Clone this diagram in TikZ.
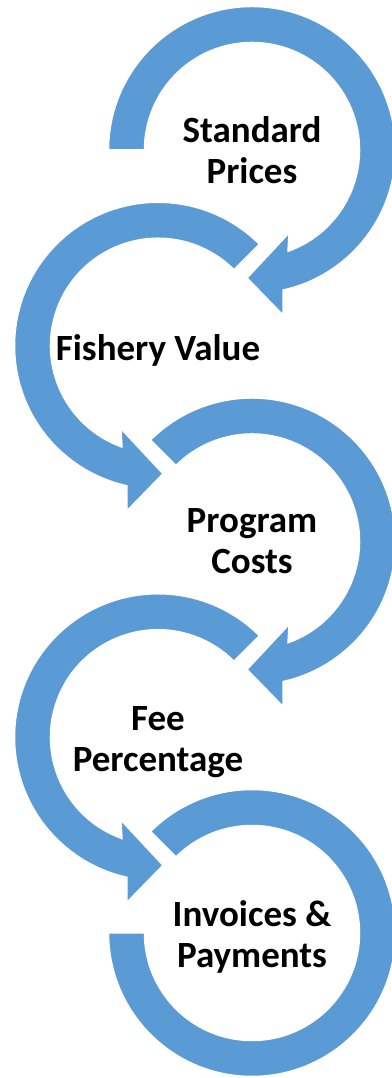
\documentclass[tikz,border=0pt]{standalone}
\usepackage{fontspec}
\setmainfont{Carlito}
\usetikzlibrary{calc}
\definecolor{ringblue}{HTML}{5B9BD5}
\tikzset{
  ring/.style={fill=ringblue, draw=white, line width=1.5pt, line join=miter},
  label/.style={align=center, text=black, font=\fontsize{37}{41}\selectfont\bfseries, inner sep=0pt}
}
% clockwise circular arrow, head at lower right, pointing left
\newcommand\arrowCW[2]{%
  \filldraw[ring] ($(#1)+(#2:143.5)$) arc[start angle=#2, end angle=-77.5, radius=143.5]
    -- ($(#1)+(31,-165)$) -- ($(#1)+(-5,-128)$) -- ($(#1)+(37,-83)$)
    -- ($(#1)+(-70.4:107.5)$) arc[start angle=-70.4, end angle=#2, radius=107.5] -- cycle;}
% counter-clockwise circular arrow, head at lower left, pointing right
\newcommand\arrowCCW[2]{%
  \filldraw[ring] ($(#1)+(#2:143.5)$) arc[start angle=#2, end angle=257.5, radius=143.5]
    -- ($(#1)+(-31,-165)$) -- ($(#1)+(5,-128)$) -- ($(#1)+(-37,-83)$)
    -- ($(#1)+(250.4:107.5)$) arc[start angle=250.4, end angle=#2, radius=107.5] -- cycle;}
\begin{document}
\begin{tikzpicture}[x=1pt, y=1pt]
  \useasboundingbox (0,0) rectangle (391,1078);
  \coordinate (c1) at (252,928);
  \coordinate (c2) at (158,732.25);
  \coordinate (c3) at (252,536.5);
  \coordinate (c4) at (158,340.75);
  \coordinate (c5) at (252,145);

  \arrowCW{c1}{180}
  \arrowCCW{c2}{45}
  \arrowCW{c3}{135}
  \arrowCCW{c4}{45}
  \filldraw[ring] ($(c5)+(135:143.5)$) arc[start angle=135, end angle=-180, radius=143.5]
    -- ($(c5)+(-180:107.5)$) arc[start angle=-180, end angle=135, radius=107.5] -- cycle;

  \node[label] (t1) at (c1) {Standard\\Prices};
  \node[label, yshift=-4.5pt] (t2) at (c2) {Fishery Value};
  \node[label] (t3) at (c3) {Program\\Costs};
  \node[label, yshift=-4.5pt] (t4) at (c4) {Fee\\Percentage};
  \node[label, yshift=-4pt] (t5) at (c5) {Invoices \&\\Payments};
\end{tikzpicture}
\end{document}
